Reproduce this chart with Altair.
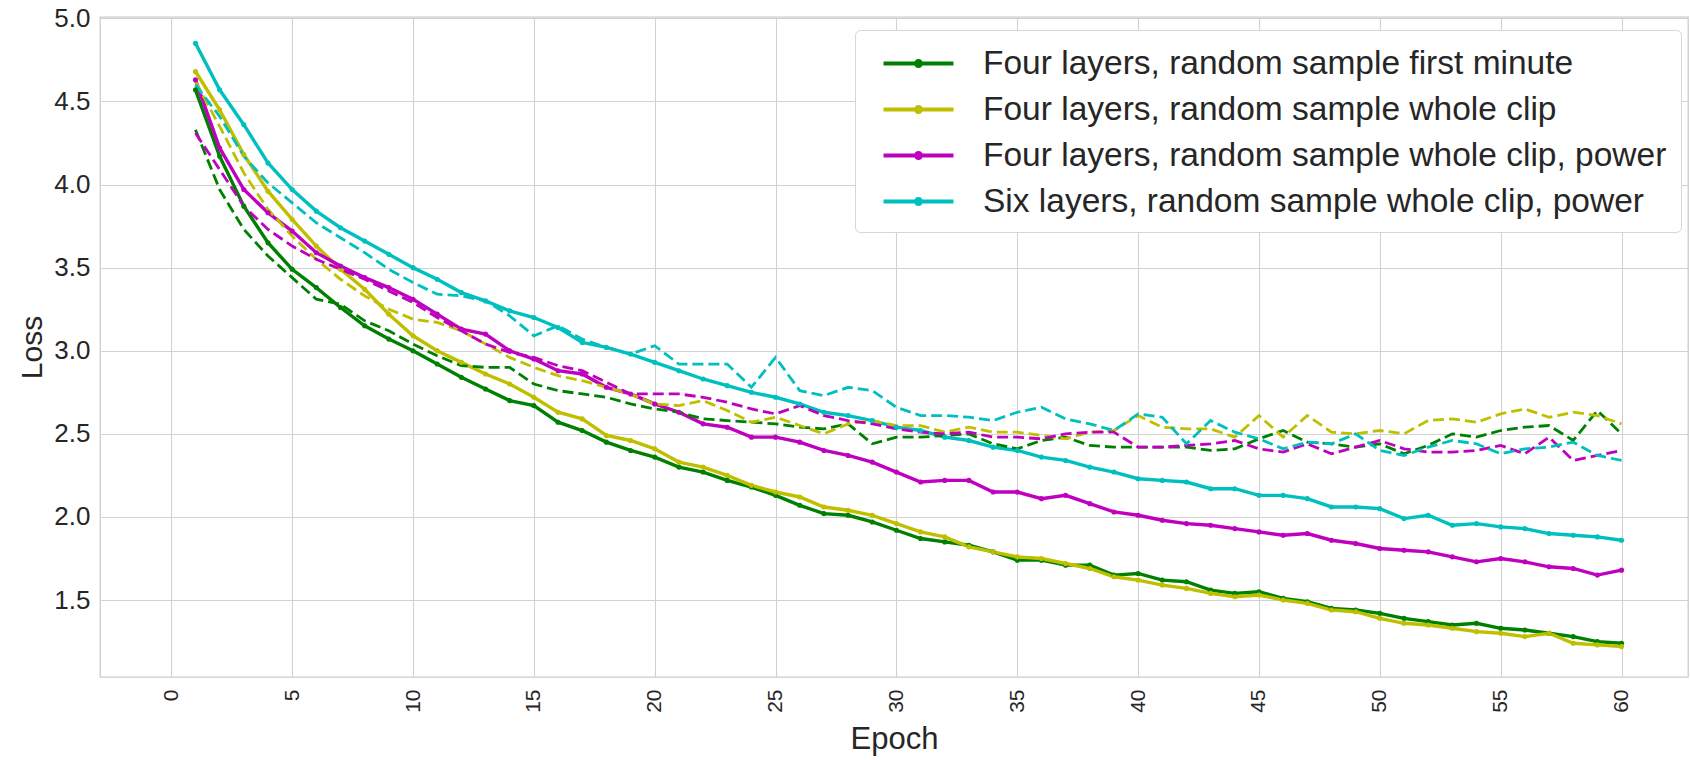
import altair as alt
import pandas as pd

# Training (solid, with markers) and validation (dashed) loss per epoch
epochs = list(range(1, 61))

series_names = [
    "Four layers, random sample first minute",
    "Four layers, random sample whole clip",
    "Four layers, random sample whole clip, power",
    "Six layers, random sample whole clip, power",
]
series_colors = ["#008000", "#bfbf00", "#bf00bf", "#00bfbf"]

train_first_minute = [
    4.57, 4.17, 3.87, 3.65, 3.49, 3.38, 3.26, 3.15, 3.07, 3.00,
    2.92, 2.84, 2.77, 2.70, 2.67, 2.57, 2.52, 2.45, 2.40, 2.36,
    2.30, 2.27, 2.22, 2.18, 2.13, 2.07, 2.02, 2.01, 1.97, 1.92,
    1.87, 1.85, 1.83, 1.79, 1.74, 1.74, 1.71, 1.71, 1.65, 1.66,
    1.62, 1.61, 1.56, 1.54, 1.55, 1.51, 1.49, 1.45, 1.44, 1.42,
    1.39, 1.37, 1.35, 1.36, 1.33, 1.32, 1.30, 1.28, 1.25, 1.24,
]
train_whole_clip = [
    4.68, 4.45, 4.18, 3.96, 3.79, 3.63, 3.49, 3.37, 3.22, 3.09,
    3.00, 2.93, 2.86, 2.80, 2.72, 2.63, 2.59, 2.49, 2.46, 2.41,
    2.33, 2.30, 2.25, 2.19, 2.15, 2.12, 2.06, 2.04, 2.01, 1.96,
    1.91, 1.88, 1.82, 1.79, 1.76, 1.75, 1.72, 1.69, 1.64, 1.62,
    1.59, 1.57, 1.54, 1.52, 1.53, 1.50, 1.48, 1.44, 1.43, 1.39,
    1.36, 1.35, 1.33, 1.31, 1.30, 1.28, 1.30, 1.24, 1.23, 1.22,
]
train_whole_clip_power = [
    4.63, 4.22, 3.97, 3.83, 3.72, 3.59, 3.51, 3.44, 3.38, 3.31,
    3.22, 3.13, 3.10, 3.00, 2.95, 2.88, 2.86, 2.78, 2.74, 2.68,
    2.63, 2.56, 2.54, 2.48, 2.48, 2.45, 2.40, 2.37, 2.33, 2.27,
    2.21, 2.22, 2.22, 2.15, 2.15, 2.11, 2.13, 2.08, 2.03, 2.01,
    1.98, 1.96, 1.95, 1.93, 1.91, 1.89, 1.90, 1.86, 1.84, 1.81,
    1.80, 1.79, 1.76, 1.73, 1.75, 1.73, 1.70, 1.69, 1.65, 1.68,
]
train_six_layers = [
    4.85, 4.57, 4.36, 4.13, 3.97, 3.84, 3.74, 3.66, 3.58, 3.50,
    3.43, 3.35, 3.30, 3.24, 3.20, 3.14, 3.05, 3.02, 2.98, 2.93,
    2.88, 2.83, 2.79, 2.75, 2.72, 2.68, 2.63, 2.61, 2.58, 2.54,
    2.52, 2.48, 2.46, 2.42, 2.40, 2.36, 2.34, 2.30, 2.27, 2.23,
    2.22, 2.21, 2.17, 2.17, 2.13, 2.13, 2.11, 2.06, 2.06, 2.05,
    1.99, 2.01, 1.95, 1.96, 1.94, 1.93, 1.90, 1.89, 1.88, 1.86,
]

val_first_minute = [
    4.33, 3.97, 3.73, 3.57, 3.44, 3.31, 3.28, 3.18, 3.12, 3.04,
    2.97, 2.91, 2.90, 2.90, 2.80, 2.76, 2.74, 2.72, 2.68, 2.65,
    2.63, 2.59, 2.58, 2.57, 2.56, 2.54, 2.53, 2.56, 2.44, 2.48,
    2.48, 2.49, 2.50, 2.44, 2.41, 2.46, 2.48, 2.43, 2.42, 2.42,
    2.42, 2.42, 2.40, 2.41, 2.47, 2.52, 2.45, 2.44, 2.42, 2.44,
    2.38, 2.43, 2.50, 2.48, 2.52, 2.54, 2.55, 2.46, 2.64, 2.50,
]
val_whole_clip = [
    4.62, 4.35, 4.07, 3.85, 3.69, 3.55, 3.43, 3.33, 3.25, 3.19,
    3.17, 3.12, 3.04, 2.96, 2.90, 2.85, 2.82, 2.78, 2.74, 2.68,
    2.67, 2.70, 2.64, 2.57, 2.60, 2.55, 2.50, 2.56, 2.58, 2.55,
    2.55, 2.51, 2.54, 2.51, 2.51, 2.49, 2.47, 2.51, 2.52, 2.61,
    2.54, 2.53, 2.53, 2.48, 2.61, 2.48, 2.61, 2.51, 2.50, 2.52,
    2.50, 2.58, 2.59, 2.57, 2.62, 2.65, 2.60, 2.63, 2.61, 2.56,
]
val_whole_clip_power = [
    4.31, 4.09, 3.87, 3.73, 3.63, 3.55, 3.49, 3.43, 3.36, 3.29,
    3.20, 3.12, 3.04, 2.99, 2.96, 2.91, 2.88, 2.81, 2.74, 2.74,
    2.74, 2.72, 2.69, 2.65, 2.62, 2.67, 2.61, 2.58, 2.56, 2.53,
    2.51, 2.50, 2.51, 2.48, 2.48, 2.47, 2.50, 2.51, 2.51, 2.42,
    2.42, 2.43, 2.44, 2.46, 2.41, 2.39, 2.44, 2.38, 2.42, 2.46,
    2.41, 2.39, 2.39, 2.40, 2.43, 2.38, 2.48, 2.34, 2.37, 2.40,
]
val_six_layers = [
    4.60, 4.41, 4.17, 4.01, 3.89, 3.77, 3.68, 3.59, 3.49, 3.41,
    3.34, 3.33, 3.30, 3.21, 3.09, 3.15, 3.07, 3.02, 2.98, 3.03,
    2.92, 2.92, 2.92, 2.78, 2.96, 2.76, 2.73, 2.78, 2.76, 2.66,
    2.61, 2.61, 2.60, 2.58, 2.63, 2.66, 2.59, 2.56, 2.52, 2.62,
    2.60, 2.44, 2.58, 2.51, 2.47, 2.41, 2.45, 2.44, 2.50, 2.40,
    2.37, 2.42, 2.46, 2.44, 2.38, 2.41, 2.42, 2.45, 2.37, 2.34,
]

x_ticks = list(range(0, 61, 5))
y_ticks = [1.5, 2.0, 2.5, 3.0, 3.5, 4.0, 4.5, 5.0]

train_series = [train_first_minute, train_whole_clip, train_whole_clip_power, train_six_layers]
val_series = [val_first_minute, val_whole_clip, val_whole_clip_power, val_six_layers]

rows = []
for name, tr, va in zip(series_names, train_series, val_series):
    for e, t, v in zip(epochs, tr, va):
        rows.append({"epoch": e, "series": name, "loss": t, "kind": "train"})
        rows.append({"epoch": e, "series": name, "loss": v, "kind": "val"})
df = pd.DataFrame(rows)

FONT = "Liberation Sans"
TEXT = "#262626"

x_enc = alt.X(
    "epoch:Q",
    scale=alt.Scale(domain=[-2.95, 62.75], nice=False, zero=False),
    axis=alt.Axis(
        values=x_ticks, title="Epoch", labelAngle=270, labelFontSize=21,
        titleFontSize=31, titleFontWeight="normal", labelPadding=12, titlePadding=12,
        grid=True, domain=False, ticks=False,
    ),
)
y_enc = alt.Y(
    "loss:Q",
    scale=alt.Scale(domain=[1.037, 5.008], nice=False, zero=False),
    axis=alt.Axis(
        values=y_ticks, format=".1f", title="Loss", labelFontSize=26,
        titleFontSize=30, titleFontWeight="normal", labelPadding=10, titlePadding=6,
        grid=True, domain=False, ticks=False,
    ),
)

# Legend symbol: a line with a dot in the middle; the path reaches past the
# unit box so the row height stays governed by the label text
legend = alt.Legend(
    title=None, orient="none", legendX=755, legendY=13,
    symbolType="M-2,0L2,0M0.14,0A0.14,0.14,0,1,1,-0.14,0A0.14,0.14,0,1,1,0.14,0",
    symbolSize=1225, symbolStrokeWidth=4, symbolFillColor="transparent",
    labelFontSize=33.5, labelFont=FONT, labelColor=TEXT, labelLimit=0,
    labelOffset=45, symbolOffset=30,
    padding=14, rowPadding=10,
    fillColor="white", strokeColor="#d6d6d6", cornerRadius=5,
)
color = alt.Color(
    "series:N", scale=alt.Scale(domain=series_names, range=series_colors), legend=legend
)

base = alt.Chart(df).encode(x=x_enc, y=y_enc, color=color)

val_lines = base.transform_filter(alt.datum.kind == "val").mark_line(
    strokeWidth=2.8, strokeDash=[11, 5]
)

train_lines = base.transform_filter(alt.datum.kind == "train").mark_line(
    strokeWidth=3.4
)

train_points = base.transform_filter(alt.datum.kind == "train").mark_circle(
    size=26, opacity=1
)

chart = (
    alt.layer(train_lines, val_lines, train_points)
    .properties(
        width=1588, height=660, autosize="none",
        padding={"left": 100, "top": 17, "right": 2, "bottom": 83},
        background="white",
    )
    .configure_view(stroke="#cccccc", strokeWidth=1.3)
    .configure_axis(
        labelFont=FONT, titleFont=FONT, labelColor=TEXT, titleColor=TEXT,
        gridColor="#d2d2d2", gridWidth=1.1,
    )
)

chart.save("out.html", embed_options={"renderer": "svg", "actions": False})
